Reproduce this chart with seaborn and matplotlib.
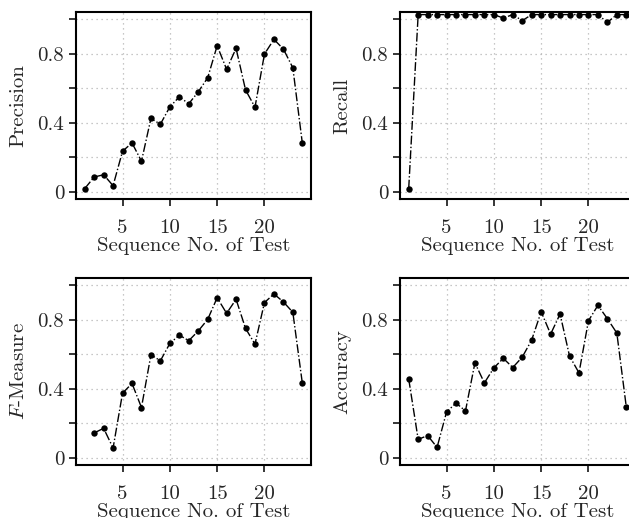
import numpy as np
import pandas as pd
import matplotlib
matplotlib.use("Agg")
import matplotlib.pyplot as plt
import seaborn as sns

tests = list(range(1, 25))
precision = [0.02, 0.087, 0.10, 0.037, 0.236, 0.284, 0.178, 0.425, 0.392, 0.492, 0.55, 0.51,
             0.579, 0.66, 0.845, 0.709, 0.83, 0.59, 0.49, 0.797, 0.882, 0.826, 0.718, 0.284]
recall = [0.02, 1.025, 1.025, 1.025, 1.025, 1.025, 1.025, 1.025, 1.025, 1.025, 1.005, 1.025,
          0.99, 1.025, 1.025, 1.025, 1.025, 1.025, 1.025, 1.025, 1.025, 0.98, 1.025, 1.025]
fmeasure = [np.nan, 0.145, 0.172, 0.058, 0.375, 0.431, 0.292, 0.596, 0.562, 0.662, 0.71, 0.678,
            0.734, 0.801, 0.926, 0.836, 0.917, 0.749, 0.658, 0.898, 0.948, 0.902, 0.842, 0.434]
accuracy = [0.457, 0.108, 0.13, 0.062, 0.266, 0.318, 0.272, 0.55, 0.434, 0.521, 0.576, 0.523,
            0.583, 0.682, 0.845, 0.716, 0.832, 0.589, 0.492, 0.793, 0.882, 0.805, 0.722, 0.295]
panels = ["Precision", "Recall", r"$F$-Measure", "Accuracy"]
x_label = "Sequence No. of Test"
x_ticks = [5, 10, 15, 20]
y_ticks = [0, 0.2, 0.4, 0.6, 0.8, 1.0]
y_ticklabels = ["0", "", "0.4", "", "0.8", ""]

sns.set_theme(style="white")
plt.rcParams["font.family"] = ["cmr10", "DejaVu Serif"]
plt.rcParams["mathtext.fontset"] = "cm"
plt.rcParams["axes.formatter.use_mathtext"] = True
plt.rcParams["axes.unicode_minus"] = False

fig = plt.figure(figsize=(6.29, 5.18), dpi=100)
W, H = 629, 518
ax_w = 235 / W
ax_h = 187 / H
positions = [
    (76 / W, 1 - 199 / H),
    (400 / W, 1 - 199 / H),
    (76 / W, 1 - 465 / H),
    (400 / W, 1 - 465 / H),
]
series = [precision, recall, fmeasure, accuracy]

for (l, b), vals, name in zip(positions, series, panels):
    ax = fig.add_axes([l, b, ax_w, ax_h])
    df = pd.DataFrame({"test": tests, "value": vals})
    sns.lineplot(data=df, x="test", y="value", ax=ax, color="black",
                 marker="o", markersize=4.6, markeredgewidth=0,
                 linewidth=1.0, linestyle="-.", errorbar=None)
    ax.set_xlim(0.08, 24.92)
    ax.set_ylim(-0.04, 1.04)
    ax.set_xticks(x_ticks)
    ax.set_xticklabels([str(t) for t in x_ticks])
    ax.set_yticks(y_ticks)
    ax.set_yticklabels(y_ticklabels)
    ax.grid(True, color="#b5b5b5", linestyle=(0, (1, 3)), linewidth=0.9)
    ax.tick_params(axis="both", which="major", direction="out", length=5,
                   width=1.1, color="black", labelsize=15, pad=3.5,
                   bottom=True, left=True)
    ax.tick_params(axis="x", pad=9.5)
    for s in ax.spines.values():
        s.set_linewidth(1.5)
        s.set_color("black")
    ax.set_xlabel(x_label, fontsize=15, labelpad=0)
    ax.set_ylabel(name, fontsize=15, labelpad=7)

fig.savefig("out.png", dpi=100)
